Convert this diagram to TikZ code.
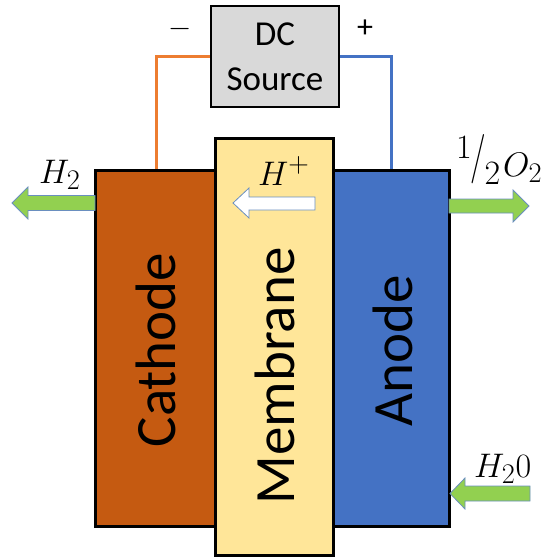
\RequirePackage{fix-cm}
\documentclass[tikz,border=0pt]{standalone}
\usepackage{fontspec}
\setmainfont{Carlito}
\usetikzlibrary{positioning}
\definecolor{cathodec}{HTML}{C55A11}
\definecolor{membc}{HTML}{FFE699}
\definecolor{anodec}{HTML}{4472C4}
\definecolor{dcc}{HTML}{D9D9D9}
\definecolor{wireor}{HTML}{ED7D31}
\definecolor{wirebl}{HTML}{4472C4}
\definecolor{arrgreen}{HTML}{92D050}
\definecolor{arredge}{HTML}{6A8FBF}
\newcommand{\mscaled}[1]{\scalebox{1.37}{#1}}
\tikzset{
  cell/.style={draw=black, line width=3pt, rectangle, inner sep=0pt},
  bigtext/.style={rotate=90, anchor=base, inner sep=0pt, font=\fontsize{57}{60}\selectfont},
  mlabel/.style={inner sep=0pt, font=\Huge, anchor=base west},
  signlabel/.style={inner sep=0pt, font=\fontsize{32}{36}\selectfont},
  blockarrow/.style={draw=arredge, line width=0.8pt, fill=arrgreen},
  wire/.style={line width=3pt},
}
\begin{document}
\begin{tikzpicture}[x=1pt, y=-1pt]
\useasboundingbox (0,0) rectangle (554,558);
% cells
\node[cell, fill=cathodec, minimum width=120pt, minimum height=356pt] (cathode) at (155,348) {};
\node[cell, fill=anodec, minimum width=116pt, minimum height=356pt] (anode) at (391,348) {};
\node[cell, fill=membc, minimum width=118pt, minimum height=417pt] (membrane) at (274,347) {};
% DC source
\node[draw=black, line width=2.5pt, fill=dcc, minimum width=128pt, minimum height=101pt, inner sep=0pt,
      align=center, font=\fontsize{35}{45}\selectfont] (dc) at (275,56.5) {DC\\Source};
% wires
\coordinate (wl) at (156,56);
\coordinate (wr) at (391,56);
\draw[wire, wireor] (dc.west |- wl) -- (wl) -- (wl |- cathode.north);
\draw[wire, wirebl] (dc.east |- wr) -- (wr) -- (wr |- anode.north);
\node[inner sep=0pt, font=\Huge] (minus) at (180,29) {\scalebox{1.2}{$-$}};
\node[signlabel] (plus) at (365,29) {+};
% labels in cells
\node[bigtext] (tcath) at (175,350) {Cathode};
\node[bigtext] (tmemb) at (294,376) {Membrane};
\node[bigtext] (tanode) at (412,351) {Anode};
% H2 arrow (left)
\draw[blockarrow] (95,195.5) -- (28,195.5) -- (28,187) -- (12,203) -- (28,219) -- (28,210.5) -- (95,210.5) -- cycle;
\node[mlabel] (h2) at (39,183) {\mscaled{$H_2$}};
% O2 arrow (right)
\draw[blockarrow] (449,199) -- (513,199) -- (513,190) -- (529,206) -- (513,222) -- (513,213) -- (449,213) -- cycle;
\node[mlabel] (o2) at (456,176) {\mscaled{\raisebox{13pt}{$1$}\kern-1pt\raisebox{3.4pt}{\scalebox{1}[1.45]{$/$}}\kern-1pt\raisebox{-6pt}{$2$}\kern2pt$O_2$}};
% H2O arrow (in)
\draw[blockarrow] (530,486) -- (465,486) -- (465,478) -- (450,493.5) -- (465,509) -- (465,501) -- (530,501) -- cycle;
\node[mlabel] (h2o) at (474,477) {\mscaled{$H_2 0$}};
% H+ arrow
\draw[draw=arredge, line width=0.8pt, fill=white] (315,197) -- (249,197) -- (249,188) -- (233,203) -- (249,218) -- (249,210) -- (315,210) -- cycle;
\node[mlabel] (hplus) at (258,185) {\mscaled{$H^{+}$}};
\end{tikzpicture}
\end{document}
